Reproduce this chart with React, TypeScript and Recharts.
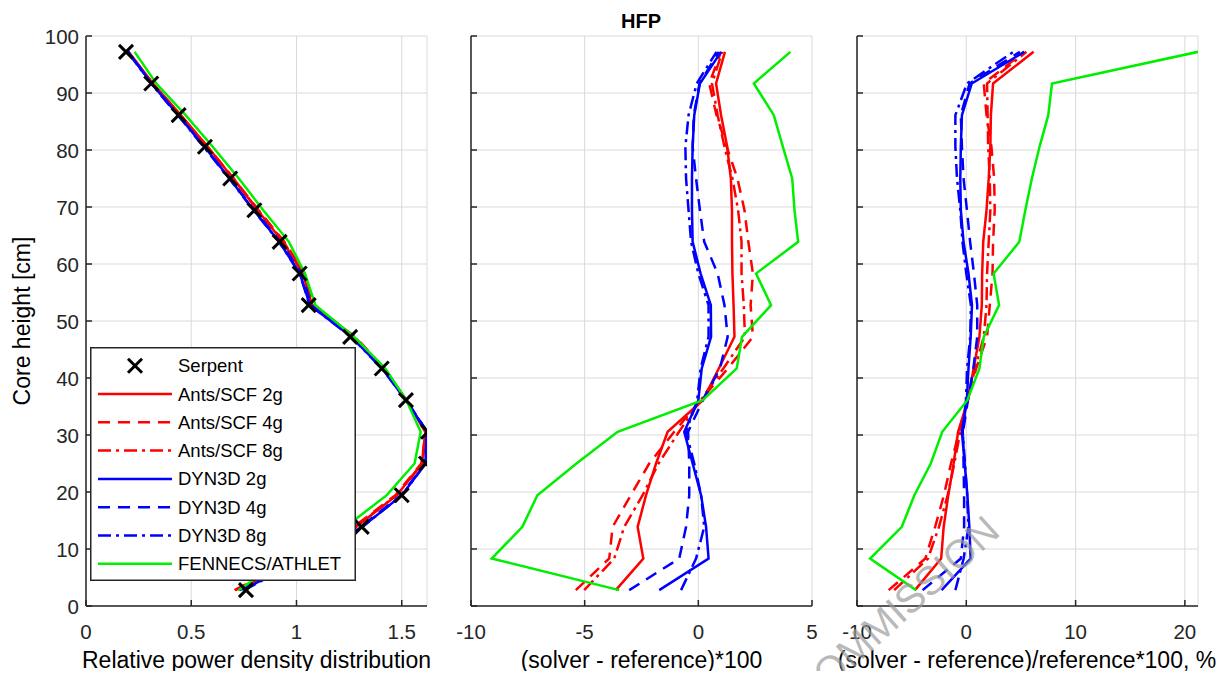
import { LineChart, Line, XAxis, YAxis, CartesianGrid, Legend } from 'recharts';

// layer mid-heights [cm], bottom to top
const heights = [2.78, 8.33, 13.89, 19.44, 25, 30.56, 36.11, 41.67, 47.22, 52.78, 58.33, 63.89, 69.44, 75, 80.56, 86.11, 91.67, 97.22];

// relative power density
const serpentPower = [0.76, 1.03, 1.31, 1.5, 1.615, 1.625, 1.52, 1.405, 1.255, 1.058, 1.015, 0.92, 0.8, 0.685, 0.565, 0.44, 0.31, 0.19];
const ants2gPower = [0.724, 1.006, 1.283, 1.477, 1.596, 1.612, 1.522, 1.414, 1.271, 1.074, 1.03, 0.935, 0.815, 0.699, 0.578, 0.45, 0.318, 0.202];
const ants4gPower = [0.706, 0.991, 1.272, 1.47, 1.593, 1.614, 1.521, 1.418, 1.279, 1.081, 1.039, 0.942, 0.82, 0.702, 0.578, 0.448, 0.315, 0.2];
const ants8gPower = [0.71, 0.993, 1.277, 1.476, 1.598, 1.617, 1.521, 1.416, 1.276, 1.078, 1.034, 0.939, 0.818, 0.7, 0.577, 0.449, 0.316, 0.201];
const dyn2gPower = [0.743, 1.035, 1.313, 1.501, 1.613, 1.619, 1.52, 1.407, 1.261, 1.064, 1.016, 0.918, 0.797, 0.682, 0.563, 0.438, 0.311, 0.2];
const dyn4gPower = [0.73, 1.022, 1.305, 1.496, 1.611, 1.621, 1.522, 1.415, 1.268, 1.07, 1.024, 0.923, 0.801, 0.684, 0.563, 0.438, 0.311, 0.199];
const dyn8gPower = [0.752, 1.029, 1.313, 1.501, 1.613, 1.62, 1.52, 1.406, 1.26, 1.063, 1.015, 0.917, 0.796, 0.68, 0.559, 0.436, 0.309, 0.198];
const fennecsPower = [0.725, 0.939, 1.233, 1.429, 1.561, 1.59, 1.522, 1.422, 1.274, 1.09, 1.04, 0.964, 0.842, 0.726, 0.602, 0.473, 0.334, 0.231];

// (solver - reference)*100
const ants2gDiff = [-3.63, -2.42, -2.67, -2.3, -1.86, -1.35, 0.2, 0.9, 1.59, 1.55, 1.5, 1.48, 1.48, 1.43, 1.27, 1.0, 0.78, 1.17];
const ants4gDiff = [-5.39, -3.92, -3.77, -2.97, -2.16, -1.06, 0.1, 1.3, 2.4, 2.3, 2.4, 2.2, 2.03, 1.72, 1.25, 0.8, 0.48, 1.0];
const ants8gDiff = [-5.02, -3.7, -3.26, -2.45, -1.75, -0.85, 0.1, 1.1, 2.05, 2.0, 1.9, 1.9, 1.75, 1.5, 1.15, 0.85, 0.6, 1.05];
const dyn2gDiff = [-1.72, 0.45, 0.34, 0.12, -0.25, -0.62, 0.0, 0.15, 0.56, 0.55, 0.1, -0.25, -0.28, -0.28, -0.25, -0.18, 0.07, 1.0];
const dyn4gDiff = [-3.04, -0.84, -0.54, -0.4, -0.4, -0.45, 0.2, 0.95, 1.29, 1.15, 0.85, 0.26, 0.07, -0.1, -0.25, -0.2, 0.05, 0.9];
const dyn8gDiff = [-0.76, -0.1, 0.26, 0.12, -0.18, -0.54, -0.05, 0.1, 0.45, 0.45, 0.0, -0.32, -0.43, -0.54, -0.57, -0.43, -0.07, 0.8];
const fennecsDiff = [-3.48, -9.09, -7.74, -7.08, -5.36, -3.55, 0.19, 1.69, 1.92, 3.2, 2.54, 4.39, 4.23, 4.13, 3.72, 3.32, 2.44, 4.05];

// (solver - reference)/reference*100, %
const ants2gRel = [-4.7, -2.3, -2.07, -1.65, -1.16, -0.75, 0.15, 0.67, 1.2, 1.42, 1.45, 1.55, 1.85, 2.05, 2.2, 2.25, 2.45, 6.16];
const ants4gRel = [-7.1, -3.75, -2.85, -2.05, -1.4, -0.65, 0.1, 0.9, 1.9, 2.15, 2.4, 2.45, 2.6, 2.55, 2.3, 1.85, 1.6, 5.3];
const ants8gRel = [-6.6, -3.5, -2.5, -1.7, -1.1, -0.55, 0.1, 0.8, 1.6, 1.85, 1.9, 2.05, 2.2, 2.15, 2.0, 1.95, 1.9, 5.5];
const dyn2gRel = [-2.26, 0.4, 0.28, 0.1, -0.15, -0.4, 0.05, 0.2, 0.4, 0.52, 0.2, -0.25, -0.5, -0.55, -0.5, -0.4, 0.5, 5.3];
const dyn4gRel = [-4.0, -0.5, -0.2, -0.2, -0.25, -0.3, 0.15, 0.65, 1.0, 1.0, 0.7, 0.35, 0.06, -0.25, -0.4, -0.5, 0.3, 4.9];
const dyn8gRel = [-1.0, -0.24, 0.2, 0.08, -0.12, -0.33, -0.03, 0.07, 0.36, 0.42, 0.0, -0.35, -0.55, -0.85, -1.0, -1.0, 0.06, 4.3];
const fennecsRel = [-4.6, -8.8, -5.9, -4.75, -3.25, -2.2, 0.1, 1.2, 1.6, 3.0, 2.5, 4.85, 5.4, 6.0, 6.7, 7.5, 7.84, 21.2];

const heightTicks = [0, 10, 20, 30, 40, 50, 60, 70, 80, 90, 100];
const powerTicks = [0, 0.5, 1, 1.5];
const diffTicks = [-10, -5, 0, 5];
const relTicks = [-10, 0, 10, 20];

const FONT = '"Liberation Sans", Arial, Helvetica, sans-serif';
const AXIS = '#262626';
const DASH = '12 8';
const DASHDOT = '13 5 3 5';

type Field = 'power' | 'diff' | 'rel';
type Series = { name: string; color: string; dash?: string; power: number[]; diff: number[]; rel: number[] };

const series: Series[] = [
  { name: 'Ants/SCF 2g', color: '#ff0000', power: ants2gPower, diff: ants2gDiff, rel: ants2gRel },
  { name: 'Ants/SCF 4g', color: '#ff0000', dash: DASH, power: ants4gPower, diff: ants4gDiff, rel: ants4gRel },
  { name: 'Ants/SCF 8g', color: '#ff0000', dash: DASHDOT, power: ants8gPower, diff: ants8gDiff, rel: ants8gRel },
  { name: 'DYN3D 2g', color: '#0000ff', power: dyn2gPower, diff: dyn2gDiff, rel: dyn2gRel },
  { name: 'DYN3D 4g', color: '#0000ff', dash: DASH, power: dyn4gPower, diff: dyn4gDiff, rel: dyn4gRel },
  { name: 'DYN3D 8g', color: '#0000ff', dash: DASHDOT, power: dyn8gPower, diff: dyn8gDiff, rel: dyn8gRel },
  { name: 'FENNECS/ATHLET', color: '#00ee00', power: fennecsPower, diff: fennecsDiff, rel: fennecsRel },
];

const toPoints = (vals: number[]) => vals.map((v, i) => ({ v, h: heights[i] }));

const XMark = (props: any) => {
  const { cx, cy } = props;
  if (cx == null || cy == null) return null;
  const s = 7;
  return (
    <g key={props.key}>
      <line x1={cx - s} y1={cy - s} x2={cx + s} y2={cy + s} stroke="#000" strokeWidth={3} />
      <line x1={cx - s} y1={cy + s} x2={cx + s} y2={cy - s} stroke="#000" strokeWidth={3} />
    </g>
  );
};

const YTick = (props: any) => {
  const { x, y, payload, showLabel } = props;
  return (
    <g>
      <line x1={x} y1={y} x2={x + 6} y2={y} stroke={AXIS} strokeWidth={1.5} />
      {showLabel && (
        <text x={x - 7} y={y} textAnchor="end" dominantBaseline="central" fontSize={20.5} fontFamily={FONT} fill={AXIS}>
          {payload.value}
        </text>
      )}
    </g>
  );
};

const XTick = (props: any) => {
  const { x, y, payload } = props;
  return (
    <g>
      <line x1={x} y1={y} x2={x} y2={y - 6} stroke={AXIS} strokeWidth={1.5} />
      <text x={x} y={y + 33} textAnchor="middle" fontSize={20.5} fontFamily={FONT} fill={AXIS}>
        {payload.value}
      </text>
    </g>
  );
};

const LegendBox = () => {
  const rowH = 28.3;
  return (
    <svg width={266} height={234} style={{ display: 'block' }}>
      <rect x={0.75} y={0.75} width={264.5} height={232.5} fill="#fff" stroke={AXIS} strokeWidth={1.5} />
      <XMark cx={45} cy={18.7} />
      <text x={88} y={18.7} dominantBaseline="central" fontSize={18.5} fontFamily={FONT} fill="#000">Serpent</text>
      {series.map((s, i) => {
        const cy = 18.7 + rowH * (i + 1);
        return (
          <g key={s.name}>
            <line x1={8} y1={cy} x2={82} y2={cy} stroke={s.color} strokeWidth={2.5} strokeDasharray={s.dash} />
            <text x={88} y={cy} dominantBaseline="central" fontSize={18.5} fontFamily={FONT} fill="#000">{s.name}</text>
          </g>
        );
      })}
    </svg>
  );
};

type PanelProps = {
  left: number;
  field: Field;
  domain: [number, number];
  ticks: number[];
  showYLabels?: boolean;
  withSerpent?: boolean;
};

const Panel = ({ left, field, domain, ticks, showYLabels, withSerpent }: PanelProps) => (
  <div style={{ position: 'absolute', left, top: 0 }}>
    <LineChart width={431} height={663} margin={{ top: 28, right: 10, bottom: 35, left: 0 }}>
      <CartesianGrid stroke="#dadada" strokeWidth={1} />
      <XAxis
        type="number"
        dataKey="v"
        domain={domain}
        ticks={ticks}
        allowDataOverflow
        height={30}
        tickSize={0}
        tickMargin={0}
        tickLine={false}
        axisLine={{ stroke: AXIS, strokeWidth: 1.5 }}
        tick={<XTick />}
        interval={0}
      />
      <YAxis
        type="number"
        domain={[0, 100]}
        ticks={heightTicks}
        allowDataOverflow
        width={80}
        tickSize={0}
        tickMargin={0}
        tickLine={false}
        axisLine={{ stroke: AXIS, strokeWidth: 1.5 }}
        tick={<YTick showLabel={!!showYLabels} />}
        interval={0}
      />
      {withSerpent && (
        <Line
          data={toPoints(serpentPower)}
          dataKey="h"
          name="Serpent"
          stroke="none"
          dot={<XMark />}
          activeDot={false}
          isAnimationActive={false}
        />
      )}
      {series.map((s) => (
        <Line
          key={s.name}
          data={toPoints(s[field])}
          dataKey="h"
          name={s.name}
          type="linear"
          stroke={s.color}
          strokeWidth={2.5}
          strokeDasharray={s.dash}
          dot={false}
          activeDot={false}
          isAnimationActive={false}
        />
      ))}
      {withSerpent && (
        <Legend
          layout="horizontal"
          verticalAlign="middle"
          align="center"
          content={() => <LegendBox />}
          wrapperStyle={{ position: 'absolute', left: 84, top: 339, width: 266, height: 234 }}
        />
      )}
    </LineChart>
  </div>
);

export default function App() {
  return (
    <div style={{ position: 'relative', width: 1212, height: 663, background: '#fff', fontFamily: FONT }}>
      <Panel left={-2} field="power" domain={[0, 1.62]} ticks={powerTicks} showYLabels withSerpent />
      <Panel left={383} field="diff" domain={[-10, 5]} ticks={diffTicks} />
      <Panel left={769} field="rel" domain={[-10, 21.2]} ticks={relTicks} />
      <svg
        width={1212}
        height={663}
        style={{ position: 'absolute', left: 0, top: 0, pointerEvents: 'none', overflow: 'visible' }}
      >
        <text x={633} y={20} textAnchor="middle" fontSize={20} fontWeight="bold" fontFamily={FONT} fill="#000">HFP</text>
        <text
          x={14}
          y={313}
          transform="rotate(-90 14 313)"
          textAnchor="middle"
          dominantBaseline="central"
          fontSize={23}
          fontFamily={FONT}
          fill="#000"
        >
          Core height [cm]
        </text>
        <text x={248.5} y={652} textAnchor="middle" dominantBaseline="central" fontSize={23} fontFamily={FONT} fill="#000">
          Relative power density distribution
        </text>
        <text x={633.5} y={652} textAnchor="middle" dominantBaseline="central" fontSize={23} fontFamily={FONT} fill="#000">
          (solver - reference)*100
        </text>
        <text x={1019} y={652} textAnchor="middle" dominantBaseline="central" fontSize={23} fontFamily={FONT} fill="#000">
          (solver - reference)/reference*100, %
        </text>
        <text
          x={994}
          y={526}
          transform="rotate(-42 994 526)"
          textAnchor="end"
          fontSize={40}
          fontFamily={FONT}
          fill="#9a9a9a"
          fillOpacity={0.7}
        >
          COMMISSION
        </text>
      </svg>
    </div>
  );
}
